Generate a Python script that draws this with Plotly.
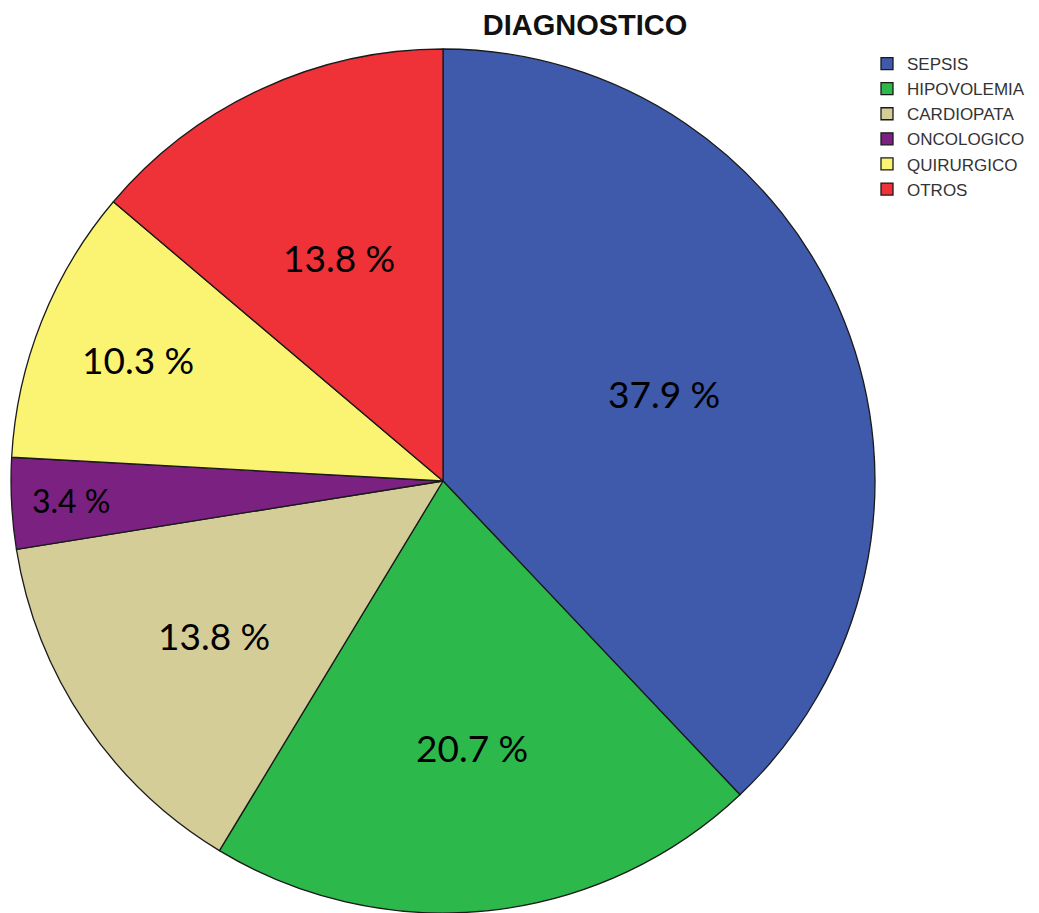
import math
import plotly.graph_objects as go

# Diagnosis distribution (percent of patients)
categories = ["SEPSIS", "HIPOVOLEMIA", "CARDIOPATA", "ONCOLOGICO", "QUIRURGICO", "OTROS"]
percentages = [37.9, 20.7, 13.8, 3.4, 10.3, 13.8]
colors = ["#3F59AB", "#2DB84C", "#D5CD98", "#7A2182", "#FBF472", "#EF3138"]

# label placement: fraction of the radius for each slice's label, and font size
label_radius = [0.55, 0.62, 0.64, 0.86, 0.76, 0.57]
label_size = [37, 37, 37, 32, 37, 37]

W, H = 1039, 913
cx, cy, r = 443, 481, 432  # pie centre and radius in pixels

fig = go.Figure(
    go.Pie(
        labels=categories,
        values=percentages,
        sort=False,
        direction="clockwise",
        rotation=0,
        marker=dict(colors=colors, line=dict(color="#1a1a1a", width=1.3)),
        textinfo="none",
        hoverinfo="label+percent",
        domain=dict(
            x=[(cx - r) / W, (cx + r) / W],
            y=[1 - (cy + r) / H, 1 - (cy - r) / H],
        ),
    )
)

# percentage labels at each slice's mid-angle (clockwise from 12 o'clock)
total = sum(percentages)
cum = 0.0
for v, rho, fs in zip(percentages, label_radius, label_size):
    theta = 2 * math.pi * (cum + v / 2) / total
    cum += v
    px = cx + rho * r * math.sin(theta)
    py = cy - rho * r * math.cos(theta)
    fig.add_annotation(
        x=px / W,
        y=1 - py / H,
        xref="paper",
        yref="paper",
        text=f"{v:.1f} %",
        showarrow=False,
        xanchor="center",
        yanchor="middle",
        font=dict(family="Lato", size=fs, color="#000000"),
    )

fig.update_layout(
    width=W,
    height=H,
    margin=dict(l=0, r=0, t=0, b=0),
    paper_bgcolor="white",
    title=dict(
        text="<b>DIAGNOSTICO</b>",
        x=585 / W,
        xanchor="center",
        y=1 - 25 / H,
        yanchor="middle",
        font=dict(family="Liberation Sans", size=29, color="#111111"),
    ),
    legend=dict(
        x=867 / W,
        xanchor="left",
        y=1 - 46 / H,
        yanchor="top",
        font=dict(family="Liberation Sans", size=17, color="#333333"),
        itemclick=False,
        tracegroupgap=0,
        bgcolor="rgba(0,0,0,0)",
    ),
    showlegend=True,
)

fig.write_html("out.html")
